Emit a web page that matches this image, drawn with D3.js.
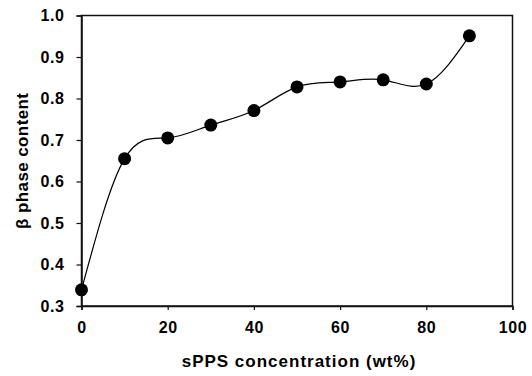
<!DOCTYPE html>
<html>
<head>
<meta charset="utf-8">
<script src="https://d3js.org/d3.v7.min.js"></script>
<style>
  html, body { margin: 0; padding: 0; background: #fff; }
  svg { display: block; }
  text { font-family: "Liberation Sans", Arial, sans-serif; font-weight: bold; fill: #000; }
</style>
</head>
<body>
<svg id="chart" width="532" height="376"></svg>
<script>
const concentration = [0, 10, 20, 30, 40, 50, 60, 70, 80, 90];
const betaContent = [0.339, 0.655, 0.705, 0.736, 0.771, 0.828, 0.840, 0.845, 0.835, 0.951];
const xTicks = [0, 20, 40, 60, 80, 100];
const yTicks = [0.3, 0.4, 0.5, 0.6, 0.7, 0.8, 0.9, 1.0];
const xTitle = "sPPS concentration (wt%)";
const yTitle = "β phase content";

(function () {
const svg = d3.select("#chart");
const mLeft = 81.5, mRight = 512.5, mTop = 15.5, mBottom = 306;

const x = d3.scaleLinear().domain([0, 100]).range([mLeft, mRight]);
const y = d3.scaleLinear().domain([0.3, 1.0]).range([mBottom, mTop]);

svg.append("rect")
  .attr("x", mLeft).attr("y", mTop)
  .attr("width", mRight - mLeft).attr("height", mBottom - mTop)
  .attr("fill", "none").attr("stroke", "#111").attr("stroke-width", 1.5);

const xAxis = svg.append("g")
  .attr("transform", `translate(0,${mBottom})`)
  .call(d3.axisBottom(x).tickValues(xTicks).tickFormat(d3.format("d")).tickSize(4).tickPadding(12));
const yAxis = svg.append("g")
  .attr("transform", `translate(${mLeft},0)`)
  .call(d3.axisLeft(y).tickValues(yTicks).tickFormat(d3.format(".1f")).tickSize(5).tickPadding(12));

[xAxis, yAxis].forEach(g => {
  g.select(".domain").attr("stroke", "#111").attr("stroke-width", 1.5);
  g.selectAll(".tick line").attr("stroke", "#111").attr("stroke-width", 1.2);
  g.selectAll(".tick text")
    .style("font-family", '"Liberation Sans", Arial, sans-serif')
    .style("font-weight", "bold")
    .style("font-size", "16px")
    .style("letter-spacing", "0.6px")
    .attr("fill", "#000");
});

const pts = concentration.map((c, i) => [c, betaContent[i]]);

svg.append("path")
  .datum(pts)
  .attr("fill", "none")
  .attr("stroke", "#000")
  .attr("stroke-width", 1.2)
  .attr("d", d3.line().x(d => x(d[0])).y(d => y(d[1])).curve(d3.curveNatural));

svg.selectAll("circle.pt")
  .data(pts)
  .enter().append("circle")
  .attr("class", "pt")
  .attr("cx", d => x(d[0]))
  .attr("cy", d => y(d[1]))
  .attr("r", 6.5)
  .attr("fill", "#000");

svg.append("text")
  .attr("x", (mLeft + mRight) / 2 + 2)
  .attr("y", 367)
  .attr("text-anchor", "middle")
  .style("font-size", "17px")
  .style("letter-spacing", "1px")
  .text(xTitle);

svg.append("text")
  .attr("transform", `translate(28,${(mTop + mBottom) / 2}) rotate(-90)`)
  .attr("text-anchor", "middle")
  .style("font-size", "17px")
  .style("letter-spacing", "0.4px")
  .text(yTitle);
})();
</script>
</body>
</html>
